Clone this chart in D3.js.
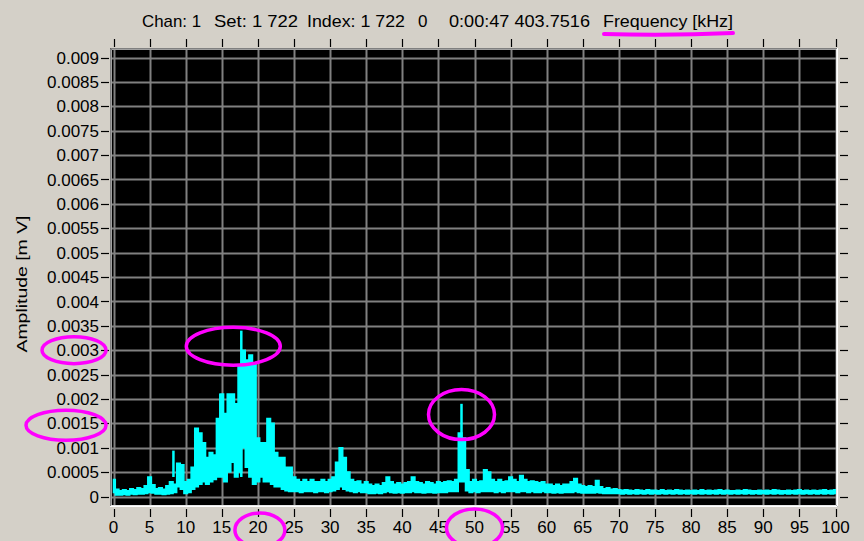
<!DOCTYPE html>
<html><head><meta charset="utf-8">
<script src="https://cdn.jsdelivr.net/npm/d3@7"></script>
<style>
html,body{margin:0;padding:0;background:#d4d0c8;}
svg{display:block;}
text{font-family:"Liberation Sans",Arial,sans-serif;fill:#000;}
</style></head>
<body>
<script>
// ---------------- data ----------------
const titleParts = ["Chan: 1", "Set: 1 722", "Index: 1 722", "0", "0:00:47 403.7516", "Frequency [kHz]"];
const yTitle = "Amplitude [m V]";
const xTicks = [0,5,10,15,20,25,30,35,40,45,50,55,60,65,70,75,80,85,90,95,100];
const yTicks = [0,0.0005,0.001,0.0015,0.002,0.0025,0.003,0.0035,0.004,0.0045,0.005,0.0055,0.006,0.0065,0.007,0.0075,0.008,0.0085,0.009];
const freqStep = 0.5; // kHz per bin, bins from 0 to 100
const ampHigh = [
0.00035,0.00015,0.00012,0.00014,0.00012,0.00016,0.00014,0.00018,0.00016,0.00022,
0.00040,0.00024,0.00016,0.00018,0.00015,0.00022,0.00030,0.00025,0.00068,0.00065,
0.00030,0.00035,0.00060,0.00140,0.00130,0.00110,0.00080,0.00090,0.00085,0.00160,
0.00210,0.00170,0.00210,0.00210,0.00190,0.00270,0.00300,0.00280,0.00290,0.00270,
0.00120,0.00110,0.00110,0.00160,0.00150,0.00090,0.00080,0.00080,0.00060,0.00060,
0.00040,0.00035,0.00030,0.00035,0.00030,0.00035,0.00030,0.00030,0.00035,0.00030,
0.00035,0.00040,0.00070,0.00100,0.00080,0.00050,0.00035,0.00030,0.00032,0.00025,
0.00030,0.00025,0.00022,0.00025,0.00022,0.00028,0.00040,0.00030,0.00025,0.00028,
0.00025,0.00028,0.00030,0.00040,0.00030,0.00028,0.00025,0.00030,0.00028,0.00025,
0.00030,0.00028,0.00030,0.00032,0.00030,0.00035,0.00130,0.00120,0.00055,0.00030,
0.00035,0.00030,0.00032,0.00055,0.00050,0.00035,0.00030,0.00035,0.00030,0.00032,
0.00040,0.00035,0.00030,0.00043,0.00035,0.00030,0.00032,0.00030,0.00028,0.00030,
0.00025,0.00025,0.00022,0.00025,0.00022,0.00025,0.00025,0.00030,0.00037,0.00025,
0.00022,0.00020,0.00022,0.00020,0.00033,0.00020,0.00016,0.00018,0.00015,0.00016,
0.00014,0.00013,0.00014,0.00013,0.00012,0.00014,0.00013,0.00012,0.00014,0.00013,
0.00013,0.00012,0.00014,0.00012,0.00013,0.00012,0.00014,0.00013,0.00012,0.00013,
0.00012,0.00013,0.00012,0.00014,0.00012,0.00013,0.00012,0.00013,0.00014,0.00012,
0.00013,0.00012,0.00012,0.00013,0.00012,0.00014,0.00013,0.00012,0.00012,0.00013,
0.00012,0.00013,0.00012,0.00014,0.00013,0.00012,0.00012,0.00013,0.00012,0.00013,
0.00014,0.00012,0.00013,0.00012,0.00013,0.00012,0.00013,0.00014,0.00012,0.00013,
0.00014];
const ampLow = [
0.00008,0.00003,0.00003,0.00004,0.00003,0.00005,0.00004,0.00005,0.00005,0.00006,
0.00008,0.00007,0.00005,0.00005,0.00004,0.00005,0.00006,0.00008,0.00020,0.00015,
0.00006,0.00008,0.00015,0.00020,0.00025,0.00030,0.00025,0.00030,0.00035,0.00040,
0.00040,0.00030,0.00050,0.00070,0.00040,0.00050,0.00100,0.00060,0.00040,0.00025,
0.00030,0.00040,0.00030,0.00030,0.00025,0.00020,0.00020,0.00015,0.00012,0.00010,
0.00010,0.00010,0.00008,0.00010,0.00010,0.00010,0.00008,0.00010,0.00010,0.00008,
0.00010,0.00012,0.00015,0.00020,0.00015,0.00012,0.00010,0.00008,0.00010,0.00008,
0.00008,0.00006,0.00006,0.00007,0.00006,0.00008,0.00010,0.00008,0.00007,0.00008,
0.00007,0.00008,0.00008,0.00010,0.00008,0.00008,0.00007,0.00008,0.00008,0.00007,
0.00008,0.00008,0.00008,0.00010,0.00010,0.00010,0.00030,0.00030,0.00012,0.00008,
0.00010,0.00008,0.00010,0.00010,0.00010,0.00010,0.00008,0.00010,0.00008,0.00010,
0.00010,0.00010,0.00008,0.00010,0.00010,0.00008,0.00010,0.00008,0.00008,0.00010,
0.00008,0.00008,0.00007,0.00008,0.00007,0.00008,0.00008,0.00008,0.00010,0.00008,
0.00007,0.00007,0.00007,0.00007,0.00008,0.00007,0.00006,0.00006,0.00006,0.00006,
0.00006,0.00005,0.00006,0.00005,0.00006,0.00005,0.00006,0.00005,0.00006,0.00005,
0.00006,0.00005,0.00006,0.00005,0.00006,0.00005,0.00006,0.00005,0.00006,0.00005,
0.00006,0.00005,0.00006,0.00005,0.00006,0.00005,0.00006,0.00005,0.00006,0.00005,
0.00006,0.00005,0.00006,0.00005,0.00006,0.00005,0.00006,0.00005,0.00006,0.00005,
0.00006,0.00005,0.00006,0.00005,0.00006,0.00005,0.00006,0.00005,0.00006,0.00005,
0.00006,0.00005,0.00006,0.00005,0.00006,0.00005,0.00006,0.00005,0.00006,0.00005,
0.00006];
const spikeFreq = [8.3, 14.8, 17.7, 48.2];
const spikeAmp  = [0.00094, 0.0021, 0.0034, 0.0019];
// annotations (highlight marks drawn over the picture)
const circledYValues = [0.003, 0.0015];
const circledXValues = [20, 50];
const circledPeaks = [[17.7, 0.0031], [48.2, 0.0017]];

// ---------------- layout ----------------
const W = 864, H = 541;
const frame = {x0: 110, y0: 48, x1: 838, y1: 507};
const x = d3.scaleLinear().domain([0, 100]).range([113.5, 835.5]);
const y = d3.scaleLinear().domain([0, 0.009]).range([496.5, 57.5]);
const FS = 17;

const svg = d3.select("body").append("svg").attr("width", W).attr("height", H);
svg.append("rect").attr("width", W).attr("height", H).attr("fill", "#d4d0c8");

// plot background & 3D frame
svg.append("rect").attr("x", frame.x0).attr("y", frame.y0)
  .attr("width", frame.x1 - frame.x0).attr("height", frame.y1 - frame.y0).attr("fill", "#000");
svg.append("path").attr("d", `M${frame.x0+0.5},${frame.y1}V${frame.y0+0.5}H${frame.x1}`)
  .attr("fill", "none").attr("stroke", "#808080").attr("stroke-width", 1);
svg.append("path").attr("d", `M${frame.x0+1.5},${frame.y1}V${frame.y0+1.5}H${frame.x1}`)
  .attr("fill", "none").attr("stroke", "#a0a0a0").attr("stroke-width", 1);
svg.append("path").attr("d", `M${frame.x0},${frame.y1-0.5}H${frame.x1-0.5}V${frame.y0}`)
  .attr("fill", "none").attr("stroke", "#ffffff").attr("stroke-width", 1);
svg.append("path").attr("d", `M${frame.x0+1},${frame.y1-1.5}H${frame.x1-1.5}V${frame.y0+1}`)
  .attr("fill", "none").attr("stroke", "#e8e8e8").attr("stroke-width", 1);

svg.append("clipPath").attr("id", "clip").append("rect")
  .attr("x", frame.x0 + 2).attr("y", frame.y0 + 2)
  .attr("width", frame.x1 - frame.x0 - 4).attr("height", frame.y1 - frame.y0 - 4);

// grid
const grid = svg.append("g").attr("clip-path", "url(#clip)");
grid.selectAll("line.v").data(xTicks).join("line")
  .attr("x1", d => Math.round(x(d)) + 0.5).attr("x2", d => Math.round(x(d)) + 0.5)
  .attr("y1", frame.y0).attr("y2", frame.y1)
  .attr("stroke", "#808080").attr("stroke-width", 2);
grid.selectAll("line.h").data(yTicks).join("line")
  .attr("y1", d => Math.round(y(d)) + 0.5).attr("y2", d => Math.round(y(d)) + 0.5)
  .attr("x1", frame.x0).attr("x2", frame.x1)
  .attr("stroke", "#808080").attr("stroke-width", 2);

// spectrum
const bins = ampHigh.map((h, i) => ({f: i * freqStep, hi: h, lo: ampLow[i]}));
const plot = svg.append("g").attr("clip-path", "url(#clip)");
const area = d3.area().curve(d3.curveStep)
  .x(d => x(d.f)).y0(d => y(d.lo)).y1(d => y(d.hi));
plot.append("path").datum(bins).attr("d", area)
  .attr("fill", "#00ffff").attr("stroke", "#00ffff").attr("stroke-width", 1.5)
  .attr("stroke-linejoin", "miter");
plot.selectAll("line.spike").data(spikeFreq).join("line")
  .attr("x1", d => x(d)).attr("x2", d => x(d))
  .attr("y1", (d, i) => y(0.0004)).attr("y2", (d, i) => y(spikeAmp[i]))
  .attr("stroke", "#00ffff").attr("stroke-width", 2.5);

// axes ticks
const tk = svg.append("g").attr("stroke", "#000").attr("stroke-width", 1.2);
xTicks.forEach(t => {
  const px = Math.round(x(t)) + 0.5;
  tk.append("line").attr("x1", px).attr("x2", px).attr("y1", 39).attr("y2", 47);
  tk.append("line").attr("x1", px).attr("x2", px).attr("y1", 509).attr("y2", 517);
});
yTicks.forEach(t => {
  const py = Math.round(y(t)) + 0.5;
  tk.append("line").attr("x1", 101).attr("x2", 109).attr("y1", py).attr("y2", py);
  tk.append("line").attr("x1", 840).attr("x2", 848).attr("y1", py).attr("y2", py);
});
const fmtY = d => d === 0 ? "0" : d3.format(".4~f")(d);
svg.append("g").selectAll("text").data(yTicks).join("text")
  .attr("x", 99).attr("y", d => y(d)).attr("dy", "0.36em")
  .attr("text-anchor", "end").attr("font-size", FS).text(fmtY);
svg.append("g").selectAll("text").data(xTicks).join("text")
  .attr("x", d => x(d)).attr("y", 533)
  .attr("text-anchor", "middle").attr("font-size", FS).text(d => d);

// title parts
const titleLayout = [[142, 59], [214, 84], [307, 98], [418, 0], [449, 141], [603, 130]];
titleParts.forEach((t, i) => {
  const tx = svg.append("text").attr("x", titleLayout[i][0]).attr("y", 27)
    .attr("font-size", FS).text(t);
  if (titleLayout[i][1] > 0) tx.attr("textLength", titleLayout[i][1]).attr("lengthAdjust", "spacingAndGlyphs");
});
svg.append("text").attr("transform", "translate(27,284) rotate(-90)")
  .attr("text-anchor", "middle").attr("font-size", 15.5)
  .attr("textLength", 137).attr("lengthAdjust", "spacingAndGlyphs").text(yTitle);

// magenta highlight marks
const mg = svg.append("g").attr("fill", "none").attr("stroke", "#ff00ff").attr("stroke-width", 3.5);
mg.append("path").attr("d", "M604,34 Q668,36 733,33").attr("stroke-width", 4).attr("stroke-linecap", "round");
const ellY = [[74, 14, 32, 13.5], [66, 0, 40, 15]];
circledYValues.forEach((v, i) => {
  mg.append("ellipse").attr("cx", ellY[i][0]).attr("cy", y(v) + (i === 0 ? 0 : 2))
    .attr("rx", ellY[i][2]).attr("ry", ellY[i][3]);
});
const ellX = [[25, 17, 530], [28, 19, 528]];
circledXValues.forEach((v, i) => {
  mg.append("ellipse").attr("cx", x(v) + (i === 0 ? 2 : 0)).attr("cy", ellX[i][2])
    .attr("rx", ellX[i][0]).attr("ry", ellX[i][1]);
});
const ellP = [[47, 19, -8], [33, 25, 0]];
circledPeaks.forEach((p, i) => {
  mg.append("ellipse").attr("cx", x(p[0]) + ellP[i][2]).attr("cy", y(p[1]) + 1)
    .attr("rx", ellP[i][0]).attr("ry", ellP[i][1]);
});
</script>
</body></html>
